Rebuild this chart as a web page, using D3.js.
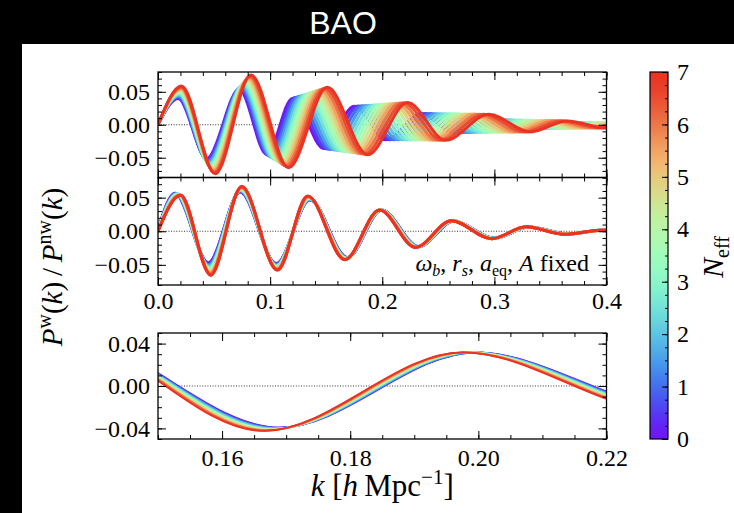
<!DOCTYPE html>
<html lang="en">
<head>
<meta charset="UTF-8">
<title>BAO</title>
<script src="https://cdn.jsdelivr.net/npm/d3@7"></script>
<style>
    body { margin: 0; background: #000; }
    svg text { font-family: "Liberation Serif", "DejaVu Serif", serif; fill: #000; }
</style>
</head>
<body>
<script>

// N_eff of each plotted curve (colour scale 0..7)
var neff = [0, 0.5, 1, 1.5, 2, 2.5, 3, 3.5, 4, 4.5, 5, 5.5, 6, 6.5, 7];

// top panel (free). One row per node (start, peak, trough, peak, ...),
// one column per N_eff curve
var freeK = [
    [0, 0, 0, 0, 0, 0, 0, 0, 0, 0, 0, 0, 0, 0, 0],
    [.0180, .0182, .0184, .0186, .0189, .0191, .0193, .0195, .0197, .0199, .0201, .0204, .0206, .0208, .0210],
    [.0435, .0440, .0446, .0451, .0456, .0462, .0467, .0473, .0478, .0483, .0489, .0494, .0499, .0505, .0510],
    [.0725, .0733, .0740, .0748, .0755, .0763, .0770, .0778, .0785, .0793, .0800, .0808, .0815, .0823, .0830],
    [.0970, .0984, .0998, .1012, .1026, .1040, .1054, .1068, .1081, .1095, .1109, .1123, .1137, .1151, .1165],
    [.1200, .1222, .1244, .1266, .1289, .1311, .1333, .1355, .1377, .1399, .1421, .1444, .1466, .1488, .1510],
    [.1480, .1508, .1536, .1564, .1591, .1619, .1647, .1675, .1703, .1731, .1759, .1786, .1814, .1842, .1870],
    [.1750, .1784, .1818, .1852, .1886, .1920, .1954, .1988, .2021, .2055, .2089, .2123, .2157, .2191, .2225],
    [.2030, .2068, .2106, .2145, .2183, .2221, .2259, .2298, .2336, .2374, .2412, .2450, .2489, .2527, .2565],
    [.2350, .2393, .2436, .2479, .2521, .2564, .2607, .2650, .2693, .2736, .2779, .2821, .2864, .2907, .2950],
    [.2630, .2679, .2729, .2778, .2827, .2876, .2926, .2975, .3024, .3074, .3123, .3172, .3221, .3271, .3320],
    [.2910, .2963, .3016, .3069, .3121, .3174, .3227, .3280, .3333, .3386, .3439, .3491, .3544, .3597, .3650],
    [.3200, .3257, .3314, .3371, .3429, .3486, .3543, .3600, .3657, .3714, .3771, .3829, .3886, .3943, .4000],
    [.3480, .3542, .3604, .3666, .3729, .3791, .3853, .3915, .3977, .4039, .4101, .4164, .4226, .4288, .4350],
    [.3760, .3827, .3894, .3961, .4029, .4096, .4163, .4230, .4297, .4364, .4431, .4499, .4566, .4633, .4700],
    [.4040, .4112, .4184, .4256, .4329, .4401, .4473, .4545, .4617, .4689, .4761, .4834, .4906, .4978, .5050]
];
var freeY = [
    [0, 0, 0, 0, 0, 0, 0, 0, 0, 0, 0, 0, 0, 0, 0],
    [.0400, .0413, .0427, .0440, .0453, .0467, .0480, .0494, .0507, .0520, .0534, .0547, .0560, .0574, .0587],
    [-.0515, -.0531, -.0548, -.0564, -.0580, -.0597, -.0613, -.0630, -.0646, -.0662, -.0679, -.0695, -.0711, -.0728, -.0744],
    [.0537, .0553, .0568, .0584, .0599, .0615, .0630, .0646, .0662, .0677, .0693, .0708, .0724, .0739, .0755],
    [-.0450, -.0465, -.0479, -.0494, -.0508, -.0523, -.0537, -.0552, -.0566, -.0581, -.0595, -.0610, -.0624, -.0639, -.0653],
    [.0400, .0412, .0424, .0436, .0448, .0460, .0472, .0484, .0495, .0507, .0519, .0531, .0543, .0555, .0567],
    [-.0360, -.0367, -.0374, -.0380, -.0387, -.0394, -.0401, -.0408, -.0414, -.0421, -.0428, -.0435, -.0441, -.0448, -.0455],
    [.0280, .0284, .0288, .0292, .0297, .0301, .0305, .0309, .0313, .0317, .0321, .0326, .0330, .0334, .0338],
    [-.0226, -.0227, -.0227, -.0228, -.0229, -.0230, -.0230, -.0231, -.0232, -.0232, -.0233, -.0234, -.0235, -.0235, -.0236],
    [.0170, .0169, .0169, .0168, .0167, .0166, .0166, .0165, .0164, .0164, .0163, .0162, .0161, .0161, .0160],
    [-.0120, -.0119, -.0119, -.0118, -.0117, -.0116, -.0116, -.0115, -.0114, -.0114, -.0113, -.0112, -.0111, -.0111, -.0110],
    [.0080, .0078, .0077, .0075, .0074, .0072, .0071, .0069, .0067, .0066, .0064, .0063, .0061, .0060, .0058],
    [-.0060, -.0059, -.0058, -.0058, -.0057, -.0056, -.0055, -.0055, -.0054, -.0053, -.0052, -.0051, -.0051, -.0050, -.0049],
    [.0038, .0037, .0037, .0036, .0036, .0035, .0035, .0034, .0033, .0033, .0032, .0032, .0031, .0031, .0030],
    [-.0030, -.0029, -.0029, -.0028, -.0027, -.0026, -.0026, -.0025, -.0024, -.0024, -.0023, -.0022, -.0021, -.0021, -.0020],
    [.0020, .0019, .0019, .0018, .0017, .0016, .0016, .0015, .0014, .0014, .0013, .0012, .0011, .0011, .0010]
];

// middle + bottom panels (omega_b, r_s, a_eq, A fixed), same layout
var fixedK = [
    [0, 0, 0, 0, 0, 0, 0, 0, 0, 0, 0, 0, 0, 0, 0],
    [.0152, .0156, .0159, .0163, .0167, .0170, .0174, .0178, .0181, .0185, .0188, .0192, .0196, .0199, .0203],
    [.0449, .0451, .0452, .0454, .0455, .0457, .0458, .0460, .0461, .0463, .0464, .0466, .0467, .0469, .0470],
    [.0732, .0733, .0734, .0735, .0736, .0737, .0738, .0740, .0741, .0742, .0743, .0744, .0745, .0746, .0747],
    [.1055, .1056, .1056, .1057, .1058, .1059, .1059, .1060, .1061, .1061, .1062, .1063, .1064, .1064, .1065],
    [.1355, .1354, .1352, .1351, .1349, .1348, .1346, .1345, .1344, .1342, .1341, .1339, .1338, .1336, .1335],
    [.1690, .1688, .1686, .1685, .1683, .1681, .1679, .1678, .1676, .1674, .1672, .1670, .1669, .1667, .1665],
    [.1995, .1994, .1992, .1991, .1989, .1988, .1986, .1985, .1984, .1982, .1981, .1979, .1978, .1976, .1975],
    [.2325, .2323, .2321, .2319, .2316, .2314, .2312, .2310, .2308, .2306, .2304, .2301, .2299, .2297, .2295],
    [.2640, .2638, .2636, .2635, .2633, .2631, .2629, .2628, .2626, .2624, .2622, .2620, .2619, .2617, .2615],
    [.3000, .2998, .2996, .2995, .2993, .2991, .2989, .2988, .2986, .2984, .2982, .2980, .2979, .2977, .2975],
    [.3310, .3308, .3306, .3304, .3301, .3299, .3297, .3295, .3293, .3291, .3289, .3286, .3284, .3282, .3280],
    [.3655, .3653, .3651, .3649, .3646, .3644, .3642, .3640, .3638, .3636, .3634, .3631, .3629, .3627, .3625],
    [.3980, .3978, .3976, .3974, .3971, .3969, .3967, .3965, .3963, .3961, .3959, .3956, .3954, .3952, .3950],
    [.4330, .4328, .4326, .4324, .4321, .4319, .4317, .4315, .4313, .4311, .4309, .4306, .4304, .4302, .4300]
];
var fixedY = [
    [.0020, .0019, .0017, .0016, .0014, .0013, .0011, .0010, .0009, .0007, .0006, .0004, .0003, .0001, 0],
    [.0566, .0564, .0562, .0559, .0557, .0555, .0553, .0551, .0548, .0546, .0544, .0542, .0539, .0537, .0535],
    [-.0470, -.0483, -.0497, -.0510, -.0523, -.0537, -.0550, -.0564, -.0577, -.0590, -.0604, -.0617, -.0630, -.0644, -.0657],
    [.0586, .0592, .0598, .0604, .0609, .0615, .0621, .0627, .0633, .0639, .0645, .0650, .0656, .0662, .0668],
    [-.0480, -.0487, -.0494, -.0502, -.0509, -.0516, -.0523, -.0531, -.0538, -.0545, -.0552, -.0559, -.0567, -.0574, -.0581],
    [.0464, .0468, .0473, .0477, .0481, .0486, .0490, .0495, .0499, .0503, .0508, .0512, .0516, .0521, .0525],
    [-.0392, -.0394, -.0397, -.0399, -.0401, -.0403, -.0406, -.0408, -.0410, -.0413, -.0415, -.0417, -.0419, -.0422, -.0424],
    [.0316, .0316, .0316, .0316, .0317, .0317, .0317, .0317, .0317, .0317, .0317, .0318, .0318, .0318, .0318],
    [-.0228, -.0229, -.0230, -.0231, -.0231, -.0232, -.0233, -.0234, -.0235, -.0236, -.0237, -.0237, -.0238, -.0239, -.0240],
    [.0152, .0152, .0153, .0153, .0154, .0154, .0155, .0155, .0155, .0156, .0156, .0157, .0157, .0158, .0158],
    [-.0105, -.0105, -.0106, -.0106, -.0107, -.0108, -.0108, -.0109, -.0109, -.0110, -.0110, -.0111, -.0111, -.0112, -.0112],
    [.0063, .0063, .0063, .0064, .0064, .0064, .0064, .0065, .0065, .0065, .0065, .0066, .0066, .0066, .0066],
    [-.0042, -.0042, -.0043, -.0043, -.0043, -.0043, -.0044, -.0044, -.0044, -.0045, -.0045, -.0045, -.0045, -.0046, -.0046],
    [.0017, .0017, .0017, .0017, .0017, .0017, .0017, .0016, .0016, .0016, .0016, .0016, .0016, .0016, .0016],
    [-.001, -.001, -.001, -.001, -.001, -.001, -.001, -.001, -.001, -.001, -.001, -.001, -.001, -.001, -.001]
];

// tick values
var wideXTicks = [0, 0.1, 0.2, 0.3, 0.4];
var wideYTicks = [-0.05, 0, 0.05];
var zoomXTicks = [0.16, 0.18, 0.20, 0.22];
var zoomYTicks = [-0.04, 0, 0.04];
var cbarTicks = [0, 1, 2, 3, 4, 5, 6, 7];


var width = 734;
var height = 513;

var svg = d3.select("body")
    .append("svg")
    .attr("width", width)
    .attr("height", height);

svg.append("rect").attr("width", width).attr("height", height).attr("fill", "#000");
svg.append("rect").attr("x", 22).attr("y", 44)
    .attr("width", width - 22).attr("height", height - 44).attr("fill", "#fff");

svg.append("text")
    .attr("x", 343).attr("y", 34)
    .attr("text-anchor", "middle")
    .style("font-family", "'Liberation Sans', Arial, sans-serif")
    .style("font-size", "32px")
    .style("fill", "#fff")
    .text("BAO");

// matplotlib "rainbow", shifted to the slightly muted tones of the picture
function toLin(c) { return c <= 0.04045 ? c / 12.92 : Math.pow((c + 0.055) / 1.055, 2.4); }
function toGam(c) { return c <= 0.0031308 ? 12.92 * c : 1.055 * Math.pow(c, 1 / 2.4) - 0.055; }
function rainbow(t) {
    var r = toLin(Math.min(1, Math.abs(2 * t - 0.5)));
    var g = toLin(Math.sin(Math.PI * t));
    var b = toLin(Math.cos(Math.PI * t / 2));
    var r2 = 0.8225 * r + 0.1774 * g;
    var g2 = 0.0332 * r + 0.9669 * g;
    var b2 = 0.0171 * r + 0.0724 * g + 0.9108 * b;
    return d3.rgb(255 * toGam(r2), 255 * toGam(g2), 255 * toGam(b2)).formatHex();
}

function fmt(d) {
    var s = d3.format(".2f")(Math.abs(d));
    return d < 0 ? "\u2212" + s : s;
}

var L = 158, R = 606.5;

function drawPanel(o) {
    var x = d3.scaleLinear().domain(o.xDomain).range([L, R]);
    var y = d3.scaleLinear().domain(o.yDomain).range([o.bottom, o.top]);
    var g = svg.append("g");

    svg.append("clipPath").attr("id", "clip" + o.name)
        .append("rect")
        .attr("x", L).attr("y", o.top)
        .attr("width", R - L).attr("height", o.bottom - o.top);

    g.append("line")
        .attr("x1", L).attr("x2", R)
        .attr("y1", y(0)).attr("y2", y(0))
        .attr("stroke", "#000")
        .attr("stroke-width", 0.8)
        .attr("stroke-dasharray", "1,1.6");

    var line = d3.line()
        .x(function (d) { return x(d[0]); })
        .y(function (d) { return y(d[1]); })
        .curve(d3.curveMonotoneX);

    var curves = g.append("g").attr("clip-path", "url(#clip" + o.name + ")");
    neff.forEach(function (n, j) {
        var pts = o.ks.map(function (row, i) { return [row[j], o.ys[i][j]]; });
        curves.append("path")
            .attr("d", line(pts))
            .attr("fill", "none")
            .attr("stroke", rainbow(n / 7))
            .attr("stroke-width", o.lw)
            .attr("stroke-linejoin", "round");
    });

    // ticks, all pointing inward
    function ax(axis, tr) {
        var a = g.append("g").attr("transform", tr).call(axis);
        a.select(".domain").remove();
        a.selectAll("line").attr("stroke", "#000").attr("stroke-width", 1);
        a.selectAll("text").style("font-size", "24px").style("font-family", "'Liberation Serif', serif");
        return a;
    }
    var xMinor = d3.range(o.xDomain[0], o.xDomain[1] + 1e-9, o.xMinor);
    var yMinor = d3.range(o.yDomain[0], o.yDomain[1] + 1e-9, o.yMinor);

    ax(d3.axisBottom(x).tickValues(xMinor).tickSize(-4).tickFormat(""), "translate(0," + o.bottom + ")");
    ax(d3.axisTop(x).tickValues(xMinor).tickSize(-4).tickFormat(""), "translate(0," + o.top + ")");
    ax(d3.axisLeft(y).tickValues(yMinor).tickSize(-4).tickFormat(""), "translate(" + L + ",0)");
    ax(d3.axisRight(y).tickValues(yMinor).tickSize(-4).tickFormat(""), "translate(" + R + ",0)");

    ax(d3.axisBottom(x).tickValues(o.xTicks).tickSize(-8).tickPadding(o.xPad)
        .tickFormat(o.xLabels ? o.xFmt : ""), "translate(0," + o.bottom + ")");
    ax(d3.axisTop(x).tickValues(o.xTicks).tickSize(-8).tickFormat(""), "translate(0," + o.top + ")");
    ax(d3.axisLeft(y).tickValues(o.yTicks).tickSize(-8).tickPadding(8).tickFormat(fmt), "translate(" + L + ",0)");
    ax(d3.axisRight(y).tickValues(o.yTicks).tickSize(-8).tickFormat(""), "translate(" + R + ",0)");

    g.append("rect")
        .attr("x", L).attr("y", o.top)
        .attr("width", R - L).attr("height", o.bottom - o.top)
        .attr("fill", "none").attr("stroke", "#000").attr("stroke-width", 1.3);
}

drawPanel({
    name: "free", top: 72, bottom: 177.5,
    xDomain: [0, 0.4], yDomain: [-0.08, 0.08],
    xTicks: wideXTicks, yTicks: wideYTicks, xMinor: 0.02, yMinor: 0.01,
    xLabels: false, ks: freeK, ys: freeY, lw: 3
});

drawPanel({
    name: "fixed", top: 177.5, bottom: 285,
    xDomain: [0, 0.4], yDomain: [-0.08, 0.08],
    xTicks: wideXTicks, yTicks: wideYTicks, xMinor: 0.02, yMinor: 0.01,
    xLabels: true, xFmt: d3.format(".1f"), xPad: 7,
    ks: fixedK, ys: fixedY, lw: 3
});

drawPanel({
    name: "zoom", top: 333, bottom: 439,
    xDomain: [0.15, 0.22], yDomain: [-0.05, 0.05],
    xTicks: zoomXTicks, yTicks: zoomYTicks, xMinor: 0.005, yMinor: 0.01,
    xLabels: true, xFmt: d3.format(".2f"), xPad: 10,
    ks: fixedK, ys: fixedY, lw: 1.8
});

// annotation in middle panel
var ann = svg.append("text")
    .attr("x", 589).attr("y", 271)
    .attr("text-anchor", "end")
    .style("font-size", "24px");
ann.append("tspan").style("font-style", "italic").text("\u03c9");
ann.append("tspan").attr("dy", 5).style("font-size", "16px").style("font-style", "italic").text("b");
ann.append("tspan").attr("dy", -5).text(", ");
ann.append("tspan").style("font-style", "italic").text("r");
ann.append("tspan").attr("dy", 5).style("font-size", "16px").style("font-style", "italic").text("s");
ann.append("tspan").attr("dy", -5).text(", ");
ann.append("tspan").style("font-style", "italic").text("a");
ann.append("tspan").attr("dy", 5).style("font-size", "16px").text("eq");
ann.append("tspan").attr("dy", -5).text(", ");
ann.append("tspan").style("font-style", "italic").text("A");
ann.append("tspan").text(" fixed");

// y label
var yl = svg.append("text")
    .attr("transform", "translate(62,267) rotate(-90)")
    .attr("text-anchor", "middle")
    .style("font-size", "29px");
yl.append("tspan").style("font-style", "italic").text("P");
yl.append("tspan").attr("dy", -11).style("font-size", "20px").text("w");
yl.append("tspan").attr("dy", 11).text("(");
yl.append("tspan").style("font-style", "italic").text("k");
yl.append("tspan").text(")\u2009/\u2009");
yl.append("tspan").style("font-style", "italic").text("P");
yl.append("tspan").attr("dy", -11).style("font-size", "20px").text("nw");
yl.append("tspan").attr("dy", 11).text("(");
yl.append("tspan").style("font-style", "italic").text("k");
yl.append("tspan").text(")");

// x label
var xl = svg.append("text")
    .attr("x", (L + R) / 2).attr("y", 496)
    .attr("text-anchor", "middle")
    .style("font-size", "31px");
xl.append("tspan").style("font-style", "italic").text("k");
xl.append("tspan").text(" [");
xl.append("tspan").style("font-style", "italic").text("h");
xl.append("tspan").text("\u2009Mpc");
xl.append("tspan").attr("dy", -12).style("font-size", "21px").text("\u22121");
xl.append("tspan").attr("dy", 12).text("]");

// colour bar
var cb = { x: 650, w: 18, top: 72, bottom: 439 };
var cy = d3.scaleLinear().domain([0, 7]).range([cb.bottom, cb.top]);
var grad = svg.append("defs").append("linearGradient")
    .attr("id", "cbgrad").attr("x1", 0).attr("x2", 0).attr("y1", 1).attr("y2", 0);
d3.range(0, 1.0001, 0.02).forEach(function (t) {
    grad.append("stop").attr("offset", t).attr("stop-color", rainbow(t));
});
svg.append("rect")
    .attr("x", cb.x).attr("y", cb.top)
    .attr("width", cb.w).attr("height", cb.bottom - cb.top)
    .attr("fill", "url(#cbgrad)");

var cbAx = svg.append("g").attr("transform", "translate(" + (cb.x + cb.w) + ",0)");
cbAx.append("g").call(d3.axisRight(cy).tickValues(d3.range(0, 7.001, 0.25)).tickSize(-3).tickFormat(""));
cbAx.append("g").call(d3.axisRight(cy).tickValues(cbarTicks).tickSize(-6).tickPadding(9).tickFormat(d3.format("d")));
cbAx.selectAll(".domain").remove();
cbAx.selectAll("line").attr("stroke", "#000").attr("stroke-width", 1);
cbAx.selectAll("text").style("font-size", "24px").style("font-family", "'Liberation Serif', serif");

svg.append("rect")
    .attr("x", cb.x).attr("y", cb.top)
    .attr("width", cb.w).attr("height", cb.bottom - cb.top)
    .attr("fill", "none").attr("stroke", "#000").attr("stroke-width", 1.2);

var cl = svg.append("text")
    .attr("transform", "translate(723,257) rotate(-90)")
    .attr("text-anchor", "middle")
    .style("font-size", "30px");
cl.append("tspan").style("font-style", "italic").text("N");
cl.append("tspan").attr("dy", 6).style("font-size", "20px").text("eff");

</script>
</body>
</html>
